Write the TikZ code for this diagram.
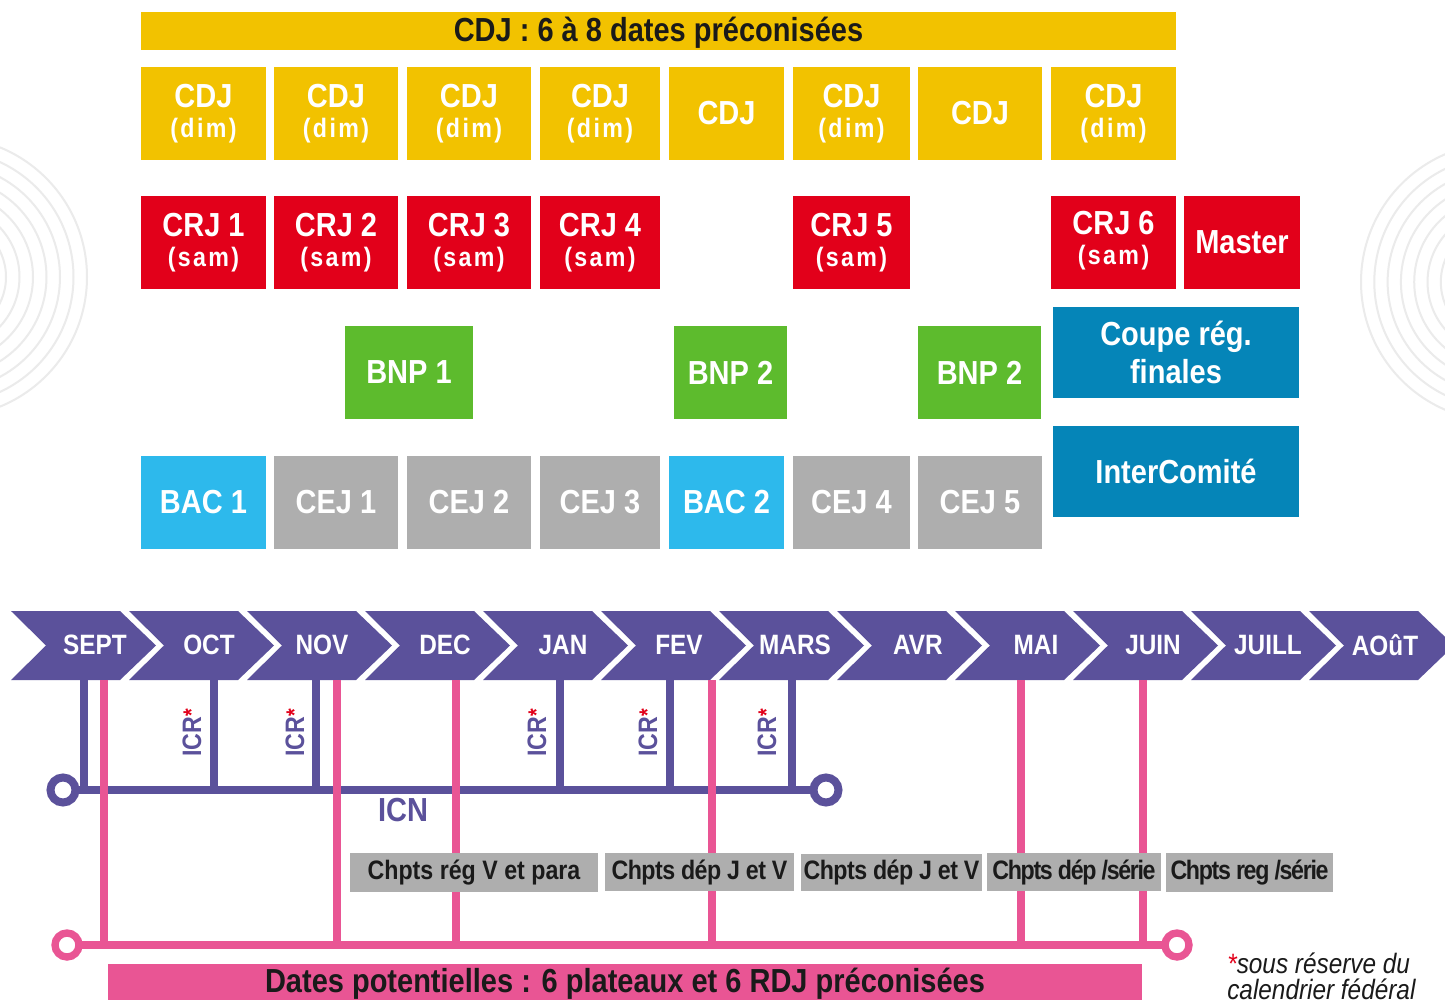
\documentclass[tikz,border=0pt]{standalone}
\usepackage{fontspec}
\setmainfont{Liberation Sans}[FakeStretch=0.87]
\definecolor{cdjY}{RGB}{242,194,0}
\definecolor{crjR}{RGB}{226,0,26}
\definecolor{bnpG}{RGB}{93,187,45}
\definecolor{bacC}{RGB}{45,185,236}
\definecolor{coupB}{RGB}{5,133,184}
\definecolor{cejG}{RGB}{174,174,174}
\definecolor{purp}{RGB}{91,81,155}
\definecolor{pinkc}{RGB}{233,85,148}
\definecolor{decoG}{RGB}{235,235,235}
\definecolor{inkc}{RGB}{26,26,26}
\newcommand\boxf{\bfseries\fontsize{25}{22.5}\selectfont}
\newcommand\subf{\bfseries\fontsize{20}{22}\selectfont\addfontfeature{LetterSpace=9}}
\newcommand\bannerf{\bfseries\fontsize{25}{30}\selectfont}
\newcommand\greyf{\bfseries\fontsize{20}{24}\selectfont}
\newcommand\monthf{\bfseries\fontsize{21}{24}\selectfont}
\newcommand\bx[8][]{\node[box,fill=#7,minimum width={(#5-#3)*0.75pt},minimum height={(#6-#4)*0.75pt},#1] (#2) at ({(#3+#5)/2},{(#4+#6)/2}) {#8};}
\begin{document}
\begin{tikzpicture}[x=0.75pt,y=-0.75pt,
  box/.style={inner sep=0pt,outer sep=0pt,text=white,font=\boxf,align=center},
  gbox/.style={box,text=inkc,font=\greyf},
  deco/.style={draw=decoG,line width=1.5pt},
  pline/.style={draw=purp,line width=6pt},
  kline/.style={draw=pinkc,line width=5.5pt},
  month/.style={text=white,font=\monthf,inner sep=0pt},
  icr/.style={text=purp,font=\bfseries\fontsize{20}{24}\selectfont,inner sep=0pt,rotate=90}]
\useasboundingbox (0,0) rectangle (1445,1003);
\clip (0,0) rectangle (1445,1003);
\fill[white] (0,0) rectangle (1445,1003);
% decorative circles
\foreach \r in {0,...,6} {
  \draw[deco] (-53,277) circle[radius=140-13.5*\r];
  \draw[deco] (1500,282) circle[radius=139-13.3*\r];
}
% top banner and rows
\bx[text=inkc,font=\bannerf]{title}{141}{12}{1176}{50}{cdjY}{\smash{\raisebox{-8.25pt}{CDJ : 6 à 8 dates préconisées}}}
\bx{c1}{141}{67}{266}{160}{cdjY}{CDJ\\{\subf (dim)}}
\bx{c2}{274}{67}{398}{160}{cdjY}{CDJ\\{\subf (dim)}}
\bx{c3}{407}{67}{531}{160}{cdjY}{CDJ\\{\subf (dim)}}
\bx{c4}{540}{67}{660}{160}{cdjY}{CDJ\\{\subf (dim)}}
\bx{c5}{669}{67}{784}{160}{cdjY}{CDJ}
\bx{c6}{793}{67}{910}{160}{cdjY}{CDJ\\{\subf (dim)}}
\bx{c7}{918}{67}{1042}{160}{cdjY}{CDJ}
\bx{c8}{1051}{67}{1176}{160}{cdjY}{CDJ\\{\subf (dim)}}
\bx{r1}{141}{196}{266}{289}{crjR}{CRJ 1\\{\subf (sam)}}
\bx{r2}{274}{196}{398}{289}{crjR}{CRJ 2\\{\subf (sam)}}
\bx{r3}{407}{196}{531}{289}{crjR}{CRJ 3\\{\subf (sam)}}
\bx{r4}{540}{196}{660}{289}{crjR}{CRJ 4\\{\subf (sam)}}
\bx{r5}{793}{196}{910}{289}{crjR}{CRJ 5\\{\subf (sam)}}
\bx{r6}{1051}{196}{1176}{285}{crjR}{CRJ 6\\{\subf (sam)}}
\fill[crjR] (1051,285) rectangle (1176,289);
\bx{master}{1184}{196}{1300}{289}{crjR}{Master}
\bx{b1}{345}{326}{473}{419}{bnpG}{BNP 1}
\bx{b2}{674}{326}{787}{419}{bnpG}{BNP 2}
\bx{b3}{918}{326}{1041}{419}{bnpG}{BNP 2}
\bx{coupe}{1053}{307}{1299}{398}{coupB}{Coupe rég.\\[3.5pt]finales}
\bx{inter}{1053}{426}{1299}{517}{coupB}{InterComité}
\bx{bac1}{141}{456}{266}{549}{bacC}{BAC 1}
\bx{cej1}{274}{456}{398}{549}{cejG}{CEJ 1}
\bx{cej2}{407}{456}{531}{549}{cejG}{CEJ 2}
\bx{cej3}{540}{456}{660}{549}{cejG}{CEJ 3}
\bx{bac2}{669}{456}{784}{549}{bacC}{BAC 2}
\bx{cej4}{793}{456}{910}{549}{cejG}{CEJ 4}
\bx{cej5}{918}{456}{1042}{549}{cejG}{CEJ 5}
% timeline chevrons
\foreach \i in {0,...,11} {
  \pgfmathsetmacro\xo{11+118*\i}
  \fill[purp] (\xo,611) -- ++(109,0) -- ++(36,34.5) -- ++(-36,34.5) -- ++(-109,0) -- ++(35,-34.5) -- cycle;
}
\foreach \x/\t [count=\k] in {95/SEPT,209/OCT,322/NOV,445/DEC,563/JAN,679/FEV,795/MARS,918/AVR,1036/MAI,1153/JUIN,1268/JUILL,1385/AOûT}
  \node[month] (m\k) at (\x,645) {\t};
% ICN structure
\coordinate (icnL) at (63,790);
\coordinate (icnR) at (826,790);
\foreach \x in {84,213.5,316,559.5,669.5,791.7}
  \draw[pline] (\x,680) -- (\x,790);
\draw[pline] (icnL) -- (icnR);
% pink structure
\coordinate (rdjL) at (67,945);
\coordinate (rdjR) at (1177,945);
\foreach \x in {104,337,456,712,1021,1143}
  \draw[kline] (\x,680) -- (\x,945);
\draw[kline] (rdjL) -- (rdjR);
\draw[pline,fill=white] (icnL) circle[radius=12.5];
\draw[pline,fill=white] (icnR) circle[radius=12.5];
\draw[kline,fill=white] (rdjL) circle[radius=12];
\draw[kline,fill=white] (rdjR) circle[radius=12];
% ICR labels
\foreach \x [count=\k] in {192,295,537,648,767}
  \node[icr] (icr\k) at (\x,733) {ICR\raisebox{1.5pt}{\fontsize{17}{17}\selectfont\textcolor{crjR}{*}}};
\node[text=purp,font=\bfseries\fontsize{25}{30}\selectfont,inner sep=0pt] (icn) at (403,810) {ICN};
% grey boxes
\bx[gbox]{g1}{350}{853}{598}{892}{cejG}{Chpts rég V et para}
\bx[gbox]{g2}{605}{853}{794}{891}{cejG}{\addfontfeature{LetterSpace=-2}Chpts dép J et V}
\bx[gbox]{g3}{801}{854}{982}{891}{cejG}{\addfontfeature{LetterSpace=-2}Chpts dép J et V}
\bx[gbox]{g4}{987}{853}{1161}{891}{cejG}{\addfontfeature{LetterSpace=-5}Chpts dép /série}
\bx[gbox]{g5}{1166}{853}{1333}{892}{cejG}{\addfontfeature{LetterSpace=-5}Chpts reg /série}
% bottom banner
\bx[text=inkc,font=\bannerf]{dates}{108}{964}{1142}{1000}{pinkc}{\smash{\raisebox{-7.5pt}{Dates potentielles : 6 plateaux et 6 RDJ préconisées}}}
% footnote
\node[anchor=base west,inner sep=0pt,font=\itshape\fontsize{21}{24}\selectfont,text=inkc] (fn1) at (1227,973) {\textcolor{crjR}{*}sous réserve du};
\node[anchor=base west,inner sep=0pt,font=\itshape\fontsize{21}{24}\selectfont,text=inkc] (fn2) at (1227,999) {calendrier fédéral};
\end{tikzpicture}
\end{document}
